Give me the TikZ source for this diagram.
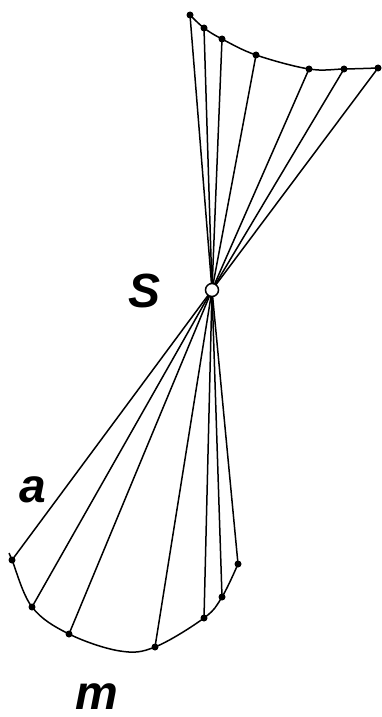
\documentclass[tikz,border=0pt]{standalone}
\usepackage{fontspec}
\setmainfont{Liberation Sans}
\begin{document}
\begin{tikzpicture}[x=1pt,y=-1pt,
  ray/.style={line width=1.5pt,black},
  arcline/.style={line width=1.5pt,black},
  dot/.style={circle,fill=black,inner sep=0pt,minimum size=7pt},
  lbl/.style={font=\fontsize{48}{48}\selectfont\bfseries\itshape,inner sep=0pt}]
\useasboundingbox (0,0) rectangle (382,717);
% centre
\coordinate (S) at (212,290);
% top points
\node[dot] (t1) at (190,15) {};
\node[dot] (t2) at (204,28) {};
\node[dot] (t3) at (222,39) {};
\node[dot] (t4) at (256,55) {};
\node[dot] (t5) at (309,69) {};
\node[dot] (t6) at (344,69) {};
\node[dot] (t7) at (378,68) {};
% bottom points
\node[dot] (b1) at (12,560) {};
\node[dot] (b2) at (32,607) {};
\node[dot] (b3) at (69,634) {};
\node[dot] (b4) at (155,647) {};
\node[dot] (b5) at (204,618) {};
\node[dot] (b6) at (222,597) {};
\node[dot] (b7) at (238,564) {};
% arcs
\draw[arcline] plot[smooth,tension=0.6] coordinates {(190,15) (204,28) (222,39) (256,55) (309,69) (344,69) (378,68)};
\draw[arcline] plot[smooth,tension=0.6] coordinates {(9,553) (12,560) (32,607) (69,634) (120,651) (155,647) (204,618) (222,597) (238,564)};
% rays
\foreach \p in {t1,t2,t3,t4,t5,t6,t7,b1,b2,b3,b4,b5,b6,b7}
  \draw[ray] (S) -- (\p.center);
\node[circle,draw=black,fill=white,line width=1.5pt,minimum size=13pt,inner sep=0pt] (c) at (S) {};
% labels
\node[lbl] (ls) at (145,291) {S};
\node[lbl] (la) at (33,490) {a};
\node[lbl] (lm) at (97,697) {m};
\end{tikzpicture}
\end{document}
